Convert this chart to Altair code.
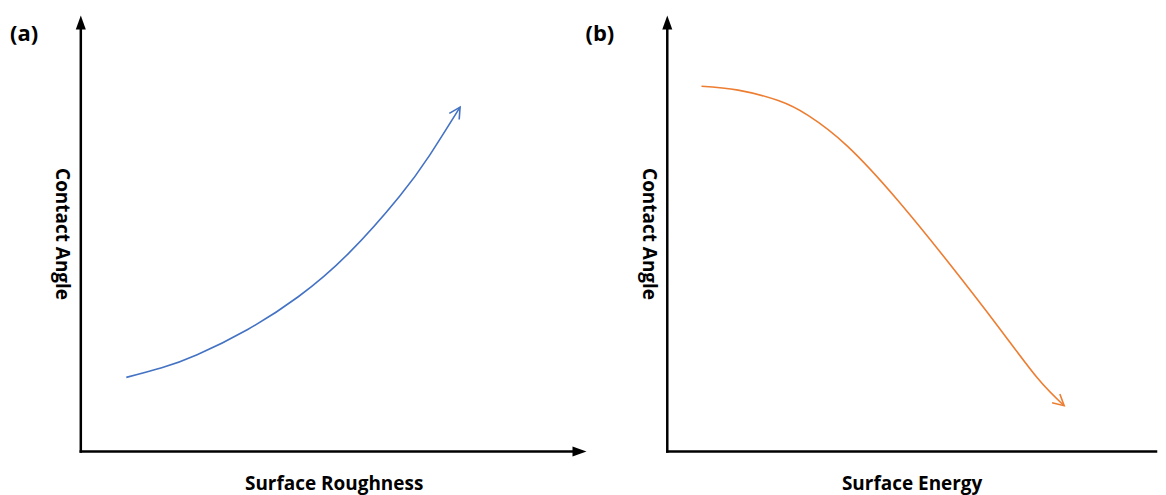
import altair as alt
import pandas as pd

# Curve (a): contact angle rises with surface roughness
ROUGH_X = [0.09, 0.16, 0.23, 0.33, 0.43, 0.53, 0.63, 0.69, 0.75]
ROUGH_Y = [0.17, 0.192, 0.222, 0.28, 0.355, 0.455, 0.585, 0.68, 0.79]

# Curve (b): contact angle falls with surface energy
ENERGY_X = [0.07, 0.145, 0.227, 0.288, 0.369, 0.471, 0.573, 0.676, 0.757, 0.812]
ENERGY_Y = [0.838, 0.829, 0.805, 0.771, 0.700, 0.577, 0.437, 0.288, 0.169, 0.105]

FONT = "Open Sans"
BLUE = "#4472C4"
ORANGE = "#ED7D31"


def panel(label, label_dx, xtitle, ytitle, cx, cy, color, head_angle, w, h, x_arrow):
    xs = alt.Scale(domain=[0, 1], nice=False, zero=False)
    ys = alt.Scale(domain=[0, 1], nice=False, zero=False)
    xa = alt.Axis(title=xtitle, domain=False, ticks=False, labels=False, grid=False,
                  titleFont=FONT, titleFontSize=19, titleFontWeight="bold",
                  titleColor="black", titlePadding=23)
    ya = alt.Axis(title=ytitle, domain=False, ticks=False, labels=False, grid=False,
                  titleFont=FONT, titleFontSize=19, titleFontWeight="bold",
                  titleColor="black", titlePadding=10, titleAngle=90,
                  titleBaseline="top")

    def X(f="x"):
        return alt.X(f"{f}:Q", scale=xs, axis=xa)

    def Y(f="y"):
        return alt.Y(f"{f}:Q", scale=ys, axis=ya)

    ytip = 1 - 7 / h
    xtip = 1 - 7 / w
    # y-axis line
    yline = alt.Chart(pd.DataFrame({"x": [0], "y": [0], "y2": [ytip]})).mark_rule(
        color="black", strokeWidth=2.5, strokeCap="square"
    ).encode(x=X(), y=Y(), y2="y2:Q")
    yhead = alt.Chart(pd.DataFrame({"x": [0], "y": [ytip]})).mark_point(
        shape="M0,-1L0.72,1L-0.72,1Z", filled=True, color="black", size=196, opacity=1
    ).encode(x=X(), y=Y())
    xend = xtip if x_arrow else 1
    xline = alt.Chart(pd.DataFrame({"x": [0], "x2": [xend], "y": [0]})).mark_rule(
        color="black", strokeWidth=2.5, strokeCap="square"
    ).encode(x=X(), x2="x2:Q", y=Y())
    layers = [yline, yhead, xline]
    if x_arrow:
        xhead = alt.Chart(pd.DataFrame({"x": [xtip], "y": [0]})).mark_point(
            shape="M1,0L-1,0.72L-1,-0.72Z", filled=True, color="black", size=196, opacity=1
        ).encode(x=X(), y=Y())
        layers.append(xhead)

    curve_df = pd.DataFrame({"x": cx, "y": cy, "o": list(range(len(cx)))})
    curve = alt.Chart(curve_df).mark_line(
        color=color, strokeWidth=1.6, interpolate="natural"
    ).encode(x=X(), y=Y(), order="o:Q")
    head = alt.Chart(pd.DataFrame({"x": [cx[-1]], "y": [cy[-1]]})).mark_point(
        shape="M-1,-0.53L0,0L-1,0.53", filled=False, color=color, strokeWidth=1.6,
        size=484, opacity=1, angle=head_angle
    ).encode(x=X(), y=Y())
    lab = alt.Chart(pd.DataFrame({"t": [label]})).mark_text(
        font=FONT, fontSize=22, fontWeight="bold", color="black",
        align="left", baseline="middle"
    ).encode(text="t:N", x=alt.value(label_dx), y=alt.value(18))
    layers += [curve, head, lab]
    return alt.layer(*layers).properties(width=w, height=h)


pa = panel("(a)", -71, "Surface Roughness", "Contact Angle", ROUGH_X, ROUGH_Y,
           BLUE, 302, 507, 437, True)
pb = panel("(b)", -82, "Surface Energy", "Contact Angle", ENERGY_X, ENERGY_Y,
           ORANGE, 42, 490, 437, False)

chart = alt.hconcat(pa, pb, spacing=81, bounds="flush").properties(
    padding={"left": 2, "top": 6, "right": 0, "bottom": 2}
).configure_view(stroke=None)

chart.save("out.html", embed_options={"renderer": "svg", "actions": False})
